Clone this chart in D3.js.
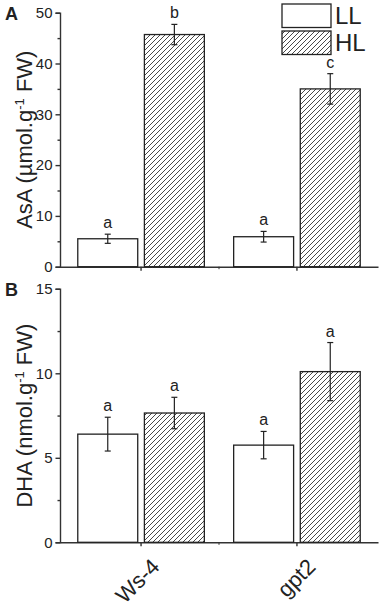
<!DOCTYPE html>
<html>
<head>
<meta charset="utf-8">
<script src="https://cdn.jsdelivr.net/npm/d3@7"></script>
<style>
  body { margin: 0; background: #fff; }
  text { font-family: "Liberation Sans", Arial, sans-serif; fill: #222; }
</style>
</head>
<body>
<svg id="chart" width="383" height="609"></svg>
<script>
// data
let genotypes = ["Ws-4", "gpt2"];
let series = ["LL", "HL"];
let asaMean = [[5.5, 45.7], [5.9, 35.0]]; // [genotype][series]
let asaErr = [[0.9, 2.0], [1.05, 3.0]];
let asaLetters = [["a", "b"], ["a", "c"]];
let dhaMean = [[6.4, 7.65], [5.75, 10.1]];
let dhaErr = [[1.0, 0.93], [0.81, 1.72]];
let dhaLetters = [["a", "a"], ["a", "a"]];
let asaTicks = [0, 10, 20, 30, 40, 50];
let dhaTicks = [0, 5, 10, 15];

let svg = d3.select("#chart");

let dims = { left: 60, right: 378 };

// pattern for the HL bars
let defs = svg.append("defs");
let pat = defs
  .append("pattern")
  .attr("id", "hatch")
  .attr("patternUnits", "userSpaceOnUse")
  .attr("width", 5)
  .attr("height", 5);
pat.append("rect").attr("width", 5).attr("height", 5).attr("fill", "#fff");
pat
  .append("path")
  .attr("d", "M-1,1 L1,-1 M0,5 L5,0 M4,6 L6,4")
  .attr("stroke", "#333")
  .attr("stroke-width", 0.9);

let x0 = d3
  .scaleBand()
  .domain(genotypes)
  .range([dims.left, dims.right])
  .paddingInner(0)
  .paddingOuter(0.02);

let x1 = d3
  .scaleBand()
  .domain(series)
  .range([0, x0.bandwidth()])
  .paddingInner(0.1)
  .paddingOuter(0.22);

function panel(opts) {
  let y = d3.scaleLinear().domain(opts.domain).range([opts.bottom, opts.top]);
  let g = svg.append("g");

  // minor y ticks
  let step = opts.ticks[1] - opts.ticks[0];
  let minor = opts.ticks.slice(0, -1).map((t) => t + step / 2);

  g.append("g")
    .attr("transform", "translate(" + dims.left + ",0)")
    .call(d3.axisLeft(y).tickValues(minor).tickSize(2.5).tickFormat(""))
    .call((a) => a.select(".domain").remove());

  let yAx = g
    .append("g")
    .attr("class", "axis")
    .attr("transform", "translate(" + dims.left + ",0)")
    .call(d3.axisLeft(y).tickValues(opts.ticks).tickSize(4.5).tickSizeOuter(4.5).tickPadding(3));
  yAx.selectAll("text").style("font-size", "15px").attr("fill", "#222");

  // x axis
  let xAx = g
    .append("g")
    .attr("transform", "translate(0," + opts.bottom + ")")
    .call(d3.axisBottom(x0).tickSize(4).tickSizeOuter(0).tickFormat(""));
  let mid = (x0(genotypes[0]) + x0.bandwidth() / 2 + x0(genotypes[1]) + x0.bandwidth() / 2) / 2;
  xAx.append("line").attr("x1", mid).attr("x2", mid).attr("y1", 0).attr("y2", 2.5).attr("stroke", "#333");

  svg.selectAll(".domain, .tick line").attr("stroke", "#333").attr("stroke-width", 1.4);

  // bars
  genotypes.forEach((gt, i) => {
    series.forEach((s, j) => {
      let v = opts.mean[i][j];
      let e = opts.err[i][j];
      let bx = x0(gt) + x1(s);
      let cx = bx + x1.bandwidth() / 2;
      g.append("rect")
        .attr("x", bx)
        .attr("y", y(v))
        .attr("width", x1.bandwidth())
        .attr("height", y(0) - y(v))
        .attr("fill", j == 0 ? "#fff" : "url(#hatch)")
        .attr("stroke", "#222")
        .attr("stroke-width", 1.3);
      // error bar
      g.append("line")
        .attr("x1", cx).attr("x2", cx)
        .attr("y1", y(v - e)).attr("y2", y(v + e))
        .attr("stroke", "#222").attr("stroke-width", 1.2);
      [v - e, v + e].forEach((c) => {
        g.append("line")
          .attr("x1", cx - 3).attr("x2", cx + 3)
          .attr("y1", y(c)).attr("y2", y(c))
          .attr("stroke", "#222").attr("stroke-width", 1.2);
      });
      g.append("text")
        .attr("x", cx)
        .attr("y", y(v + e) - 6)
        .attr("text-anchor", "middle")
        .style("font-size", "16px")
        .text(opts.letters[i][j]);
    });
  });

  // y label
  let lab = g
    .append("text")
    .attr("transform", "translate(32," + (opts.top + opts.bottom) / 2 + ") rotate(-90)")
    .attr("text-anchor", "middle")
    .style("font-size", "22px");
  lab.append("tspan").text(opts.label1);
  lab.append("tspan").attr("dy", -8).style("font-size", "13px").text("-1");
  lab.append("tspan").attr("dy", 8).text(" FW)");

  // panel letter
  svg.append("text")
    .attr("x", 5)
    .attr("y", opts.top + 7)
    .style("font-size", "18px")
    .style("font-weight", "bold")
    .text(opts.name);

  return y;
}

panel({
  domain: [0, 50], top: 12.7, bottom: 266.7, ticks: asaTicks,
  mean: asaMean, err: asaErr, letters: asaLetters,
  label1: "AsA (µmol.g", name: "A",
});

let yB = panel({
  domain: [0, 15], top: 288.8, bottom: 542.3, ticks: dhaTicks,
  mean: dhaMean, err: dhaErr, letters: dhaLetters,
  label1: "DHA (nmol.g", name: "B",
});

// genotype labels under panel B
svg
  .append("g")
  .selectAll("text")
  .data(genotypes)
  .enter()
  .append("text")
  .attr("transform", (d) => "translate(" + (x0(d) + x0.bandwidth() / 2 + 9) + "," + (yB(0) + 15) + ") rotate(-45)")
  .attr("text-anchor", "end")
  .attr("dy", "0.7em")
  .style("font-size", "22px")
  .text((d) => d);

// legend
let leg = svg.append("g").attr("transform", "translate(282,4)");
series.forEach((s, j) => {
  leg.append("rect")
    .attr("x", 0)
    .attr("y", j * 27)
    .attr("width", 49)
    .attr("height", 23.5)
    .attr("fill", j == 0 ? "#fff" : "url(#hatch)")
    .attr("stroke", "#222")
    .attr("stroke-width", 1.3);
  leg.append("text")
    .attr("x", 53)
    .attr("y", j * 27 + 19.5)
    .style("font-size", "24px")
    .text(s);
});
</script>
</body>
</html>
